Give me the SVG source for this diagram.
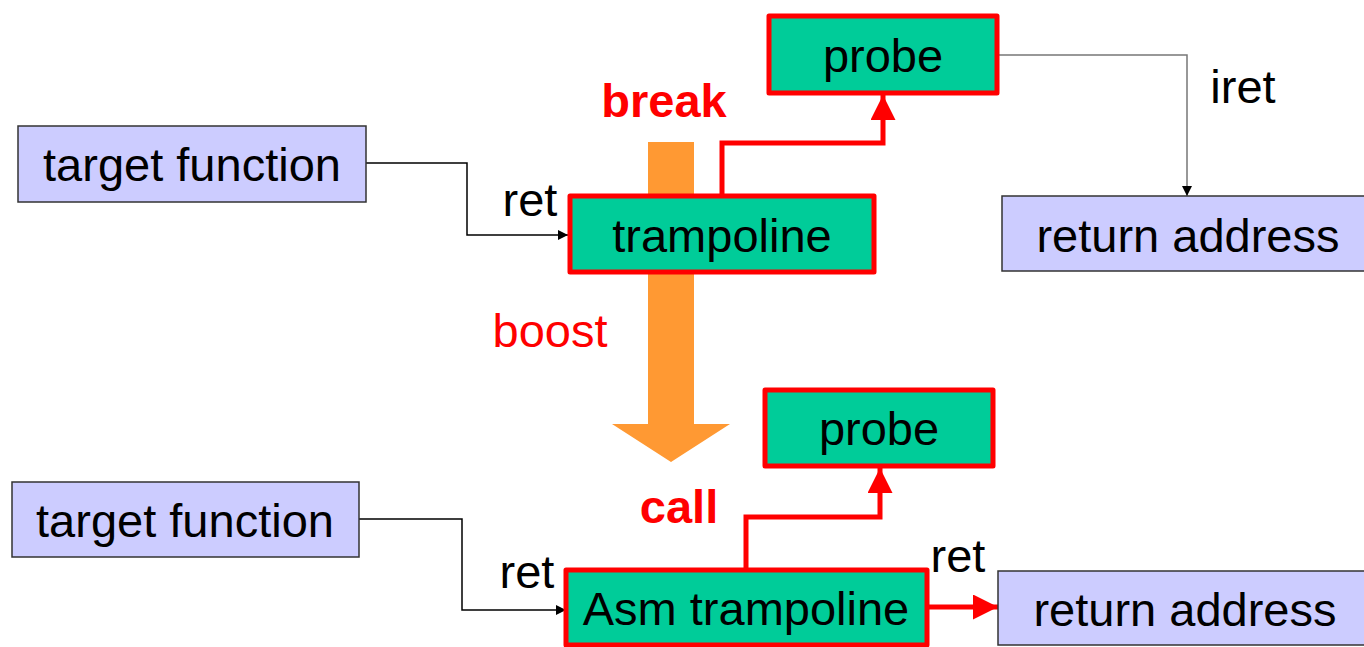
<svg xmlns="http://www.w3.org/2000/svg" width="1364" height="647" viewBox="0 0 1364 647">
  <defs>
    <style>
      .lbl { font-family: "Liberation Sans", Arial, sans-serif; font-size: 47px; fill: #000; }
      .mid { text-anchor: middle; dominant-baseline: central; }
      .red { fill: #FF0000; }
      .bold { font-weight: bold; }
      .blue { fill: #CCCCFF; stroke: #333; stroke-width: 1.5; }
      .green { fill: #00CC99; stroke: #FF0000; stroke-width: 5; stroke-linejoin: round; }
      .blk { fill: none; stroke: #000; stroke-width: 1.5; }
      .gry { fill: none; stroke: #777; stroke-width: 1.5; }
      .rd { fill: none; stroke: #FF0000; stroke-width: 5; }
    </style>
    <marker id="ah" viewBox="0 0 10 10" refX="10" refY="5" markerWidth="10" markerHeight="10" markerUnits="userSpaceOnUse" orient="auto">
      <path d="M0,0 L10,5 L0,10 z" fill="#000"/>
    </marker>
    <marker id="ahr" viewBox="0 0 10 10" refX="10" refY="5" markerWidth="5" markerHeight="5" orient="auto">
      <path d="M0,0 L10,5 L0,10 z" fill="#FF0000"/>
    </marker>
  </defs>

  <!-- boost transition arrow -->
  <g id="boost-arrow">
    <polygon points="648,142 694,142 694,424 730,424 671,462 612,424 648,424" fill="#FF9933"/>
  </g>

  <!-- connectors -->
  <g id="connectors">
    <polyline class="blk" points="366,163 467,163 467,235 568,235" marker-end="url(#ah)"/>
    <polyline class="rd" points="722,196 722,143 883,143 883,95" marker-end="url(#ahr)"/>
    <polyline class="gry" points="997,55 1187,55 1187,196" marker-end="url(#ah)"/>
    <polyline class="blk" points="359,519 462,519 462,610 566,610" marker-end="url(#ah)"/>
    <polyline class="rd" points="746,570 746,517 880,517 880,468" marker-end="url(#ahr)"/>
    <polyline class="rd" points="927,607 998,607" marker-end="url(#ahr)"/>
  </g>

  <!-- labels -->
  <g id="labels">
    <text class="lbl red bold" x="664" y="117" text-anchor="middle">break</text>
    <text class="lbl" x="530" y="216" text-anchor="middle">ret</text>
    <text class="lbl" x="1243" y="103" text-anchor="middle">iret</text>
    <text class="lbl red" x="550" y="347" text-anchor="middle">boost</text>
    <text class="lbl red bold" x="679" y="523" text-anchor="middle">call</text>
    <text class="lbl" x="527" y="588" text-anchor="middle">ret</text>
    <text class="lbl" x="958" y="572" text-anchor="middle">ret</text>
  </g>

  <!-- top scenario -->
  <g id="target-top">
    <rect class="blue" x="18" y="126" width="348" height="76"/>
    <text class="lbl mid" x="192" y="164">target function</text>
  </g>
  <g id="trampoline">
    <rect class="green" x="570" y="196" width="304" height="76"/>
    <text class="lbl mid" x="722" y="235">trampoline</text>
  </g>
  <g id="probe-top">
    <rect class="green" x="769" y="16" width="228" height="77"/>
    <text class="lbl mid" x="883" y="55">probe</text>
  </g>
  <g id="retaddr-top">
    <rect class="blue" x="1002" y="196" width="370" height="75"/>
    <text class="lbl mid" x="1188" y="235">return address</text>
  </g>

  <!-- bottom scenario -->
  <g id="target-bottom">
    <rect class="blue" x="12" y="482" width="347" height="75"/>
    <text class="lbl mid" x="185" y="520">target function</text>
  </g>
  <g id="asm-trampoline">
    <rect class="green" x="566" y="570" width="361" height="75"/>
    <text class="lbl mid" x="746" y="608">Asm trampoline</text>
  </g>
  <g id="probe-bottom">
    <rect class="green" x="765" y="390" width="228" height="76"/>
    <text class="lbl mid" x="879" y="428">probe</text>
  </g>
  <g id="retaddr-bottom">
    <rect class="blue" x="998" y="571" width="374" height="74"/>
    <text class="lbl mid" x="1185" y="609">return address</text>
  </g>
</svg>
